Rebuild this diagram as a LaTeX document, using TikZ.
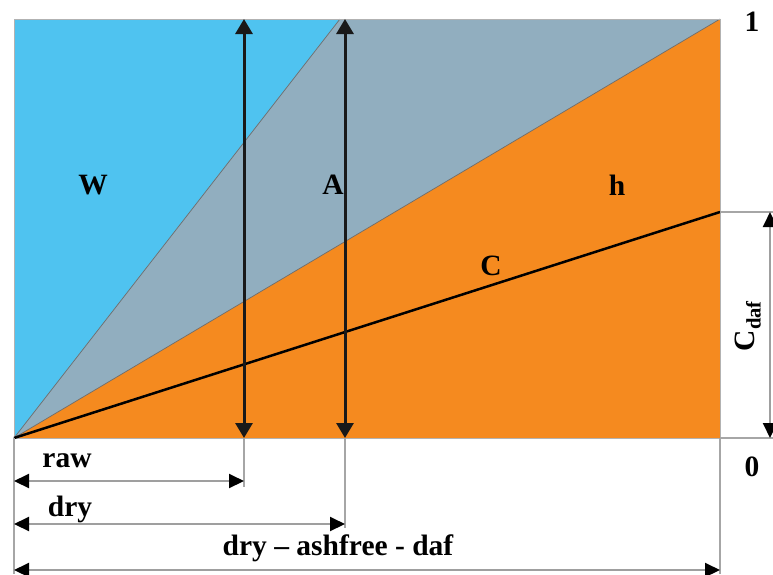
\documentclass[tikz,border=0pt]{standalone}
\usepackage{fontspec}
\setmainfont{Liberation Serif}
\usepackage{xcolor}
\usetikzlibrary{arrows.meta,positioning,calc}

\definecolor{waterblue}{HTML}{4FC3F0}
\definecolor{ashgray}{HTML}{91AEBF}
\definecolor{coalorange}{HTML}{F58A1F}

\begin{document}
\begin{tikzpicture}[
    x=1pt, y=-1pt,
    font=\bfseries\fontsize{29.5}{32}\selectfont,
    region/.style={draw=gray!85!black, line width=0.7pt},
    guide/.style={draw=gray!70, line width=1.3pt},
    dim/.style={draw=gray!75, line width=2pt,
      {Triangle[length=15pt,width=14pt,color=black]}-{Triangle[length=15pt,width=14pt,color=black]}},
    bar/.style={draw=black!90, line width=3pt,
      {Triangle[length=15pt,width=17pt]}-{Triangle[length=15pt,width=17pt]}},
    lbl/.style={inner sep=1pt},
  ]
    \useasboundingbox (0,0) rectangle (773,574);

    \coordinate (origin) at (14,438);
    \coordinate (topleft) at (14,19);
    \coordinate (topright) at (720,19);
    \coordinate (botright) at (720,438);
    \coordinate (waterend) at (340,19);
    \coordinate (cdaf) at (720,212);

    % coloured fractions
    \fill[waterblue] (origin) -- (topleft) -- (waterend) -- cycle;
    \fill[ashgray] (origin) -- (waterend) -- (topright) -- cycle;
    \fill[coalorange] (origin) -- (topright) -- (botright) -- cycle;
    \draw[region] (origin) -- (waterend);
    \draw[region] (origin) -- (topright);
    \draw[draw=gray!60, line width=1pt] (origin) rectangle (topright);
    \draw[line width=2.5pt] (origin) -- (cdaf);

    % vertical bars for raw and dry
    \coordinate (rawtop) at (244,19);
    \coordinate (rawbot) at (244,438);
    \coordinate (drytop) at (345,19);
    \coordinate (drybot) at (345,438);
    \draw[bar] (rawbot) -- (rawtop);
    \draw[bar] (drybot) -- (drytop);

    \node[lbl] (w) at (93,185) {W};
    \node[lbl] (a) at (333,185) {A};
    \node[lbl] (h) at (617,185) {h};
    \node[lbl] (c) at (491,266) {C};

    % dimension lines below
    \coordinate (rawleft) at (14,481);
    \coordinate (rawright) at (244,481);
    \coordinate (dryleft) at (14,524);
    \coordinate (dryright) at (345,524);
    \coordinate (dafleft) at (14,570);
    \coordinate (dafright) at (720,570);
    \draw[guide] (origin) -- (14,574);
    \draw[guide] (rawbot) -- (244,487);
    \draw[guide] (drybot) -- (345,528);
    \draw[guide] (botright) -- (720,574);
    \draw[dim] (rawleft) -- (rawright);
    \draw[dim] (dryleft) -- (dryright);
    \draw[dim] (dafleft) -- (dafright);
    \node[lbl] (raw) at (67,461) {raw};
    \node[lbl] (dry) at (70,509) {dry};
    \node[lbl] (daf) at (338,548) {dry -- ashfree - daf};

    % scale on the right
    \coordinate (cdafend) at (773,212);
    \coordinate (zeroend) at (773,438);
    \draw[guide] (cdaf) -- (cdafend);
    \draw[guide] (botright) -- (zeroend);
    \coordinate (cdaftop) at (770,212);
    \coordinate (cdafbot) at (770,438);
    \draw[dim] (cdafbot) -- (cdaftop);
    \node[lbl, rotate=90] (cdaflbl) at (748,326) {C\textsubscript{daf}};
    \node[lbl] (one) at (752,22) {1};
    \node[lbl] (zero) at (752,467) {0};
\end{tikzpicture}
\end{document}
